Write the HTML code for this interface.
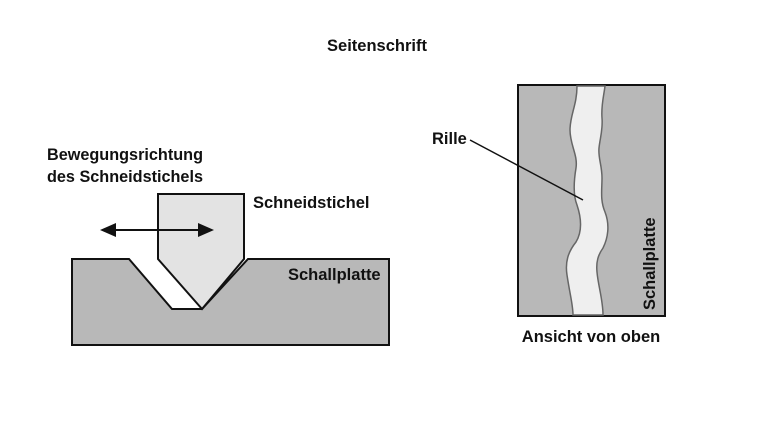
<!DOCTYPE html>
<html><head><meta charset="utf-8"><style>
body{margin:0;background:#fff}
svg{display:block}
text{font-family:"Liberation Sans",sans-serif;font-weight:bold;font-size:16.5px;fill:#111}
</style></head><body>
<svg width="768" height="432" viewBox="0 0 768 432">
<text x="377" y="51" text-anchor="middle">Seitenschrift</text>
<text x="47" y="160" textLength="156" lengthAdjust="spacingAndGlyphs">Bewegungsrichtung</text>
<text x="47" y="182" textLength="156" lengthAdjust="spacingAndGlyphs">des Schneidstichels</text>
<text x="253" y="208">Schneidstichel</text>
<polygon points="72,259 129,259 172,309 202,309 248,259 389,259 389,345 72,345" fill="#b8b8b8" stroke="#111" stroke-width="2"/>
<polygon points="158,194 244,194 244,259 202,309 158,259" fill="#e3e3e3" stroke="#111" stroke-width="2"/>
<text x="288" y="280">Schallplatte</text>
<line x1="112" y1="230" x2="200" y2="230" stroke="#111" stroke-width="2"/>
<polygon points="100,230 116,223 116,237" fill="#111"/>
<polygon points="214,230 198,223 198,237" fill="#111"/>
<rect x="518" y="85" width="147" height="231" fill="#b8b8b8" stroke="#111" stroke-width="2"/>
<path d="M577,86 C577,105 570,115 570,130 C570,145 578,155 576,168 C574,180 573,195 577,205 C582,220 582,232 576,242 C568,252 565,262 567,275 C570,295 573,305 573,315 L603,315 C603,300 598,285 597,272 C596,262 598,255 603,248 C608,238 610,225 605,212 C600,200 602,190 602,178 C602,165 598,158 599,148 C600,138 603,130 602,118 C601,105 604,95 605,86 Z" fill="#efefef" stroke="#666" stroke-width="1.5"/>
<text x="432" y="144">Rille</text>
<line x1="470" y1="140" x2="583" y2="200" stroke="#111" stroke-width="1.5"/>
<text transform="translate(655,310) rotate(-90)">Schallplatte</text>
<text x="591" y="342" text-anchor="middle">Ansicht von oben</text>
</svg>
</body></html>
